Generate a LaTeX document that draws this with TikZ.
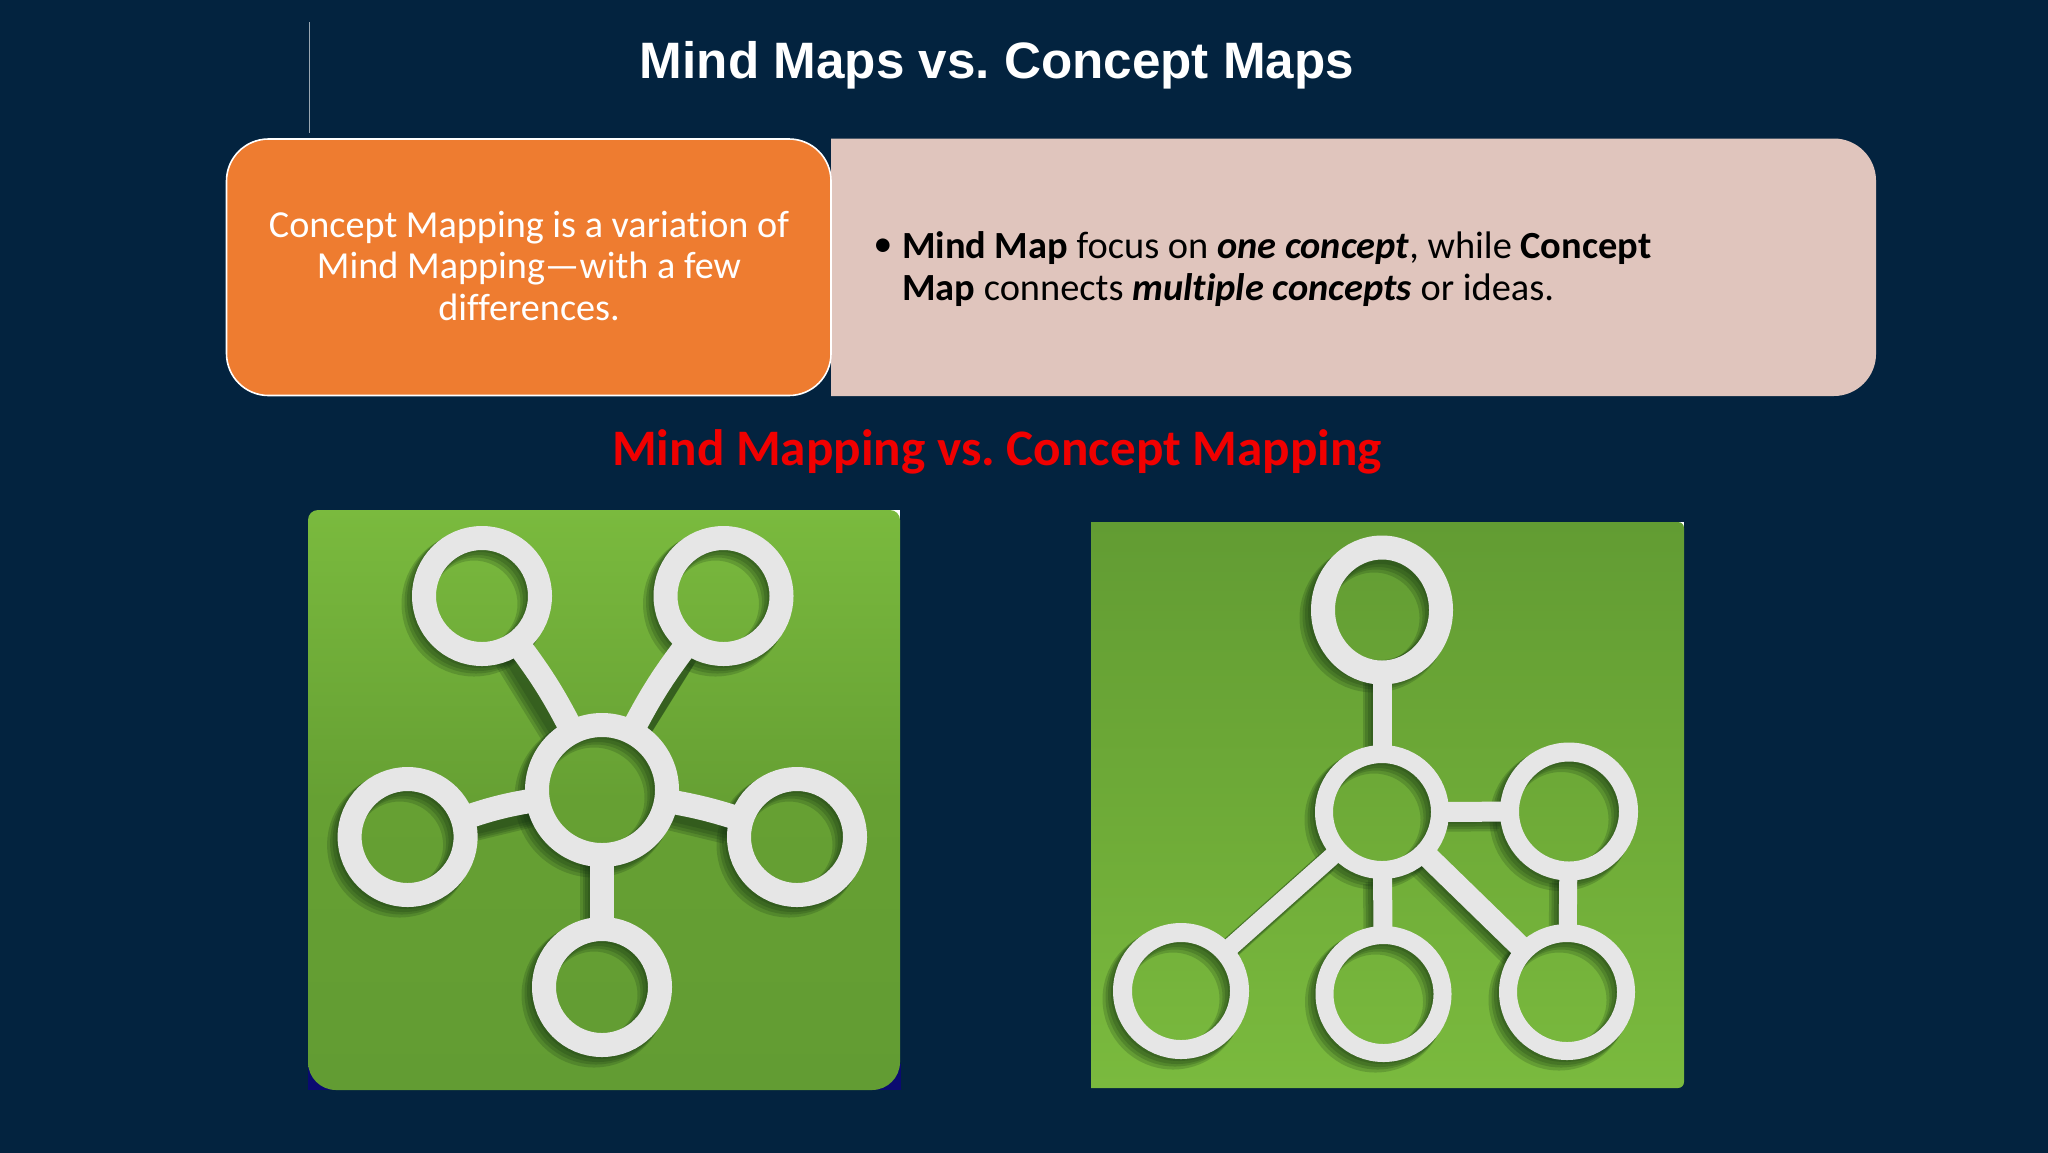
\documentclass[tikz,border=0pt]{standalone}
\usepackage{fontspec}
\setmainfont[Ligatures=NoCommon]{Carlito}
\newfontfamily\titlefont{Liberation Sans}
\usetikzlibrary{shapes.geometric}
\definecolor{bg}{HTML}{03233F}
\definecolor{orangebox}{HTML}{EE7C30}
\definecolor{pinkbox}{HTML}{E0C5BD}
\definecolor{ringgrey}{HTML}{E6E6E6}
\definecolor{redhead}{HTML}{F00000}
\definecolor{gLight}{HTML}{7ABA3E}
\definecolor{gMid}{HTML}{66A033}
\definecolor{gDark}{HTML}{629C33}
\definecolor{shade}{HTML}{123010}
\definecolor{cornerblue}{HTML}{0A0A70}
\tikzset{
  x=0.5pt,y=-0.5pt,
  ring/.style args={#1/#2}{circle,draw=ringgrey,line width={(#1-#2)*0.5pt},
    minimum size={(#1+#2)*0.5pt},inner sep=0pt,outer sep=0pt},
  ovalring/.style args={#1/#2}{ellipse,draw=ringgrey,line width=12pt,
    minimum width={#1*1pt},minimum height={#2*1pt},inner sep=0pt,outer sep=0pt},
  link/.style={draw=ringgrey,line width=#1*0.5pt},
  slabel/.style={inner sep=0pt,outer sep=0pt,align=center},
}
% shadow of a ring: centre x, y, outer R, inner r
\newcommand{\ringshadow}[4]{%
  \foreach \d/\g in {8/5,6/3,4/2,2/0}{%
    \draw[draw=shade,opacity=0.2,line width={(#3-#4+\g)*0.5pt}]
      ({#1-\d},{#2+\d}) circle[radius={(#3+#4)*0.25pt}];}}
\newcommand{\linkshadow}[5]{%
  \foreach \d/\g in {8/4,6/3,4/2,2/0}{%
    \draw[draw=shade,opacity=0.2,line width={(#5+\g)*0.5pt},shorten <=32pt,shorten >=32pt]
      ({#1-\d},{#2+\d}) -- ({#3-\d},{#4+\d});}}
\begin{document}
\frenchspacing
\begin{tikzpicture}
\useasboundingbox (0,0) rectangle (2048,1152);
\fill[bg] (-20,-20) rectangle (2068,1172);
\coordinate (ruleA) at (309.5,22);
\coordinate (ruleB) at (309.5,133);
\draw[draw=white!60!bg,line width=0.6pt] (ruleA) -- (ruleB);
\node[slabel,text=white,font=\titlefont\bfseries\fontsize{25.6}{30}\selectfont] (title) at (997,65) {Mind Maps vs. Concept Maps};
% right box
\fill[pinkbox] (831,138.5) -- (1834,138.5) .. controls (1857,138.5) and (1876,157.5) .. (1876,180.5) -- (1876,354) .. controls (1876,377) and (1857,396) .. (1834,396) -- (831,396) -- cycle;
% left box
\draw[fill=orangebox,draw=white,line width=0.8pt,rounded corners=21pt] (226.5,139) rectangle (831,395.5);
\node[slabel,text=white,font=\fontsize{19.1}{20.9}\selectfont] (lefttext) at (529,266) {Concept Mapping is a variation of\\Mind Mapping---with a few\\differences.};
\node[slabel,text=black,font=\fontsize{19.2}{20.9}\selectfont] (bullet) at (883,248) {•};
\node[slabel,anchor=north west,align=left,text=black,font=\fontsize{19.2}{20.9}\selectfont] (righttext) at (902,232) {\textbf{Mind Map} focus on \textbf{\textit{one concept}}, while \textbf{Concept}\\\textbf{Map} connects \textbf{\textit{multiple concepts}} or ideas.};
\node[slabel,text=redhead,font=\bfseries\fontsize{25.6}{30}\selectfont] (redtitle) at (997,452) {Mind Mapping vs. Concept Mapping};
% ---------- icon 1
\fill[cornerblue] (308,1064) rectangle (334,1090);
\fill[cornerblue] (874,1064) rectangle (901,1090);
\fill[white] (886,510) rectangle (900,524);
\shade[top color=gLight,bottom color=gDark,middle color=gMid,shading angle=0]
  [rounded corners=5pt] (308,800) -- (308,510) -- (900,510) -- (900,800)
  [rounded corners=14pt] -- (900,1090) -- (308,1090) -- cycle;
\linkshadow{482}{596}{602}{790}{24}
\linkshadow{723}{596}{602}{790}{24}
\linkshadow{408}{837}{602}{790}{24}
\linkshadow{797}{837}{602}{790}{24}
\linkshadow{602}{987}{602}{790}{24}
\ringshadow{482}{596}{70}{46}
\ringshadow{723.5}{596}{70}{46}
\ringshadow{407.6}{837}{70}{46}
\ringshadow{797}{837}{70}{46}
\ringshadow{602}{987}{70}{46}
\ringshadow{602}{790}{77}{53}
\node[ring=70/46] (a1) at (482,596) {};
\node[ring=70/46] (a2) at (723.5,596) {};
\node[ring=70/46] (a3) at (407.6,837) {};
\node[ring=70/46] (a4) at (797,837) {};
\node[ring=70/46] (a5) at (602,987) {};
\node[ring=77/53] (a0) at (602,790) {};
\draw[link=24] (a0) to[bend right=5] (a1);
\draw[link=24] (a0) to[bend left=5] (a2);
\draw[link=24] (a0) to[bend right=5] (a3);
\draw[link=24] (a0) to[bend left=4] (a4);
\draw[link=24] (a0) -- (a5);
% ---------- icon 2
\fill[white] (1672,522) rectangle (1684,534);
\shade[top color=gDark,bottom color=gLight,middle color=gMid!60!gLight,shading angle=0]
  (1091,522) -- (1678,522) to[out=0,in=90] (1684,528) -- (1684,1082) to[out=-90,in=0] (1678,1088) -- (1091,1088) -- cycle;
\linkshadow{1382}{610}{1382}{812}{19}
\linkshadow{1382}{812}{1569}{811}{20}
\linkshadow{1382}{812}{1181}{991}{18}
\linkshadow{1382}{812}{1383.5}{994}{19}
\linkshadow{1382}{812}{1567}{992}{22}
\linkshadow{1569}{811}{1567}{992}{18}
\ringshadow{1382}{610}{72}{48}
\ringshadow{1382}{812}{67}{49}
\ringshadow{1569}{811.5}{69}{50}
\ringshadow{1181}{991}{68}{49}
\ringshadow{1383.5}{994}{68}{50}
\ringshadow{1567}{992}{68}{50}
\node[ovalring=59/62.5] (b1) at (1382,610) {};
\node[ring=67/49] (b0) at (1382,812) {};
\node[ring=69/50] (b2) at (1569,811.5) {};
\node[ring=68/49] (b3) at (1181,991) {};
\node[ring=68/50] (b4) at (1383.5,994) {};
\node[ring=68/50] (b5) at (1567,992) {};
\draw[link=19] (b0) -- (b1);
\draw[link=20] (b0) -- (b2);
\draw[link=18] (b0) -- (b3);
\draw[link=19] (b0) -- (b4);
\draw[link=22] (b0) -- (b5);
\draw[link=18] (b2) -- (b5);
\end{tikzpicture}
\end{document}
